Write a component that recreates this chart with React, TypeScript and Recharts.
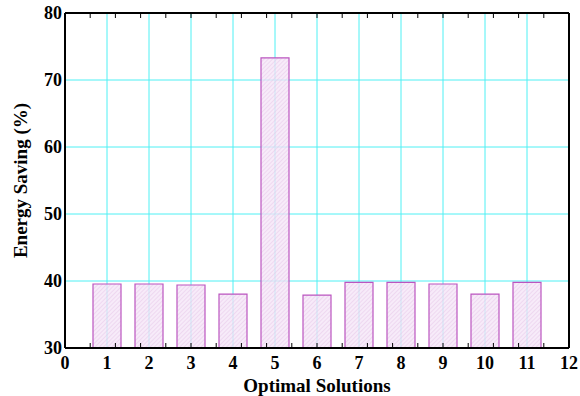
import { Bar, BarChart, CartesianGrid, XAxis, YAxis } from "recharts"

const solutions = [1, 2, 3, 4, 5, 6, 7, 8, 9, 10, 11]
const savings = [39.55, 39.55, 39.4, 38.05, 73.3, 37.9, 39.8, 39.8, 39.55, 38.05, 39.8]
const xTicks = [0, 1, 2, 3, 4, 5, 6, 7, 8, 9, 10, 11, 12]
const yTicks = [30, 40, 50, 60, 70, 80]
const xMinorTicks = [0.5, 1, 1.5, 2, 2.5, 3, 3.5, 4, 4.5, 5, 5.5, 6, 6.5, 7, 7.5, 8, 8.5, 9, 9.5, 10, 10.5, 11, 11.5]
const yMinorTicks = [32, 34, 36, 38, 40, 42, 44, 46, 48, 50, 52, 54, 56, 58, 60, 62, 64, 66, 68, 70, 72, 74, 76, 78]

const data = solutions.map((s, i) => ({ solution: s, saving: savings[i] }))

const font = { fontFamily: "Liberation Serif", fontWeight: "bold", fontSize: 18, fill: "#000" }

// minor ticks only, no labels
const noLabel = () => <g />

const App = () => {
  return (
    <div style={{ position: "absolute", left: 0, top: 0 }}>
      <BarChart width={580} height={396} data={data} margin={{ top: 13, right: 11, bottom: 0, left: 0 }}>
        <defs>
          <pattern id="hatch" width="3" height="3" patternUnits="userSpaceOnUse" patternTransform="rotate(45)">
            <rect width="3" height="3" fill="#f4e4f6" fillOpacity={0.75} />
            <line x1="0" y1="0" x2="0" y2="3" stroke="#e0bce4" strokeWidth="1" strokeOpacity={0.8} />
          </pattern>
        </defs>
        <CartesianGrid stroke="#4ff0f4" strokeWidth={1} />
        <XAxis
          dataKey="solution"
          type="number"
          domain={[0, 12]}
          ticks={xTicks}
          interval={0}
          height={48}
          tickSize={0}
          tickMargin={8}
          tick={font}
          axisLine={{ stroke: "#000", strokeWidth: 2 }}
          label={{ value: "Optimal Solutions", position: "insideBottom", offset: 4, style: { ...font, fontSize: 19 } }}
        />
        <XAxis
          xAxisId="minorB"
          type="number"
          domain={[0, 12]}
          ticks={xMinorTicks}
          interval={0}
          mirror
          tick={noLabel}
          axisLine={false}
          tickSize={5}
          tickLine={{ stroke: "#000" }}
        />
        <XAxis
          xAxisId="top"
          orientation="top"
          type="number"
          domain={[0, 12]}
          ticks={xMinorTicks}
          interval={0}
          mirror
          tick={noLabel}
          tickSize={5}
          tickLine={{ stroke: "#000" }}
          axisLine={{ stroke: "#000", strokeWidth: 2 }}
        />
        <YAxis
          type="number"
          domain={[30, 80]}
          ticks={yTicks}
          interval={0}
          width={65}
          tickSize={0}
          tickMargin={3}
          tick={font}
          axisLine={{ stroke: "#000", strokeWidth: 2 }}
          label={{ value: "Energy Saving (%)", angle: -90, position: "insideLeft", offset: 20, style: { ...font, fontSize: 19, textAnchor: "middle" } }}
        />
        <YAxis
          yAxisId="minorL"
          type="number"
          domain={[30, 80]}
          ticks={yMinorTicks}
          interval={0}
          mirror
          tick={noLabel}
          axisLine={false}
          tickSize={5}
          tickLine={{ stroke: "#000" }}
        />
        <YAxis
          yAxisId="right"
          orientation="right"
          type="number"
          domain={[30, 80]}
          ticks={yMinorTicks}
          interval={0}
          mirror
          tick={noLabel}
          tickSize={5}
          tickLine={{ stroke: "#000" }}
          axisLine={{ stroke: "#000", strokeWidth: 2 }}
        />
        <Bar dataKey="saving" barSize={28} fill="url(#hatch)" stroke="#bb55c0" strokeWidth={1.2} isAnimationActive={false} />
      </BarChart>
    </div>
  )
}

export default App
